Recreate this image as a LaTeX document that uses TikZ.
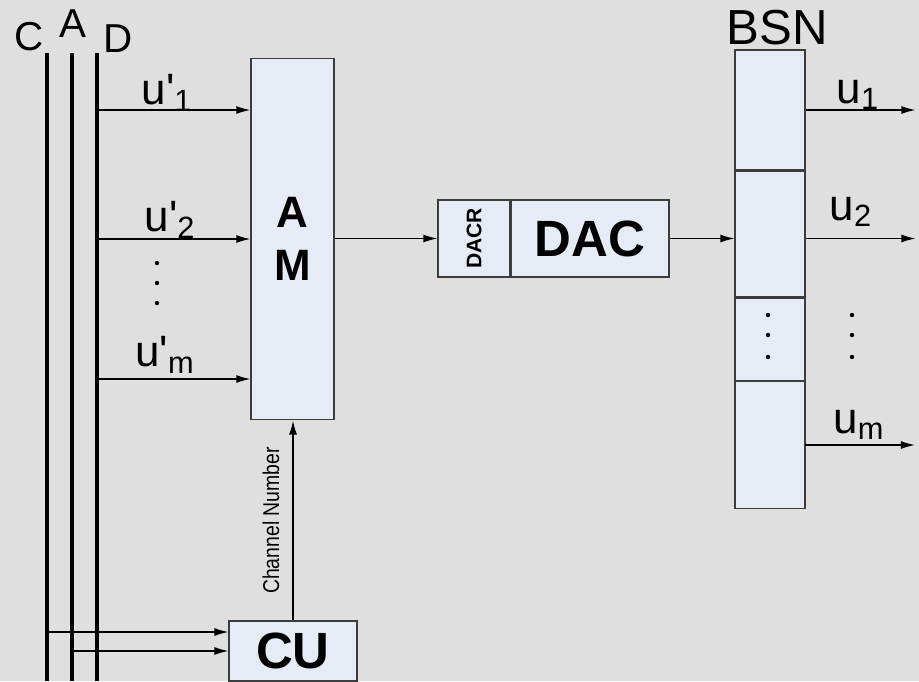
\documentclass[tikz,border=0pt]{standalone}
\usepackage{fontspec}
\setmainfont{Liberation Sans}
\usetikzlibrary{arrows.meta,positioning}
\definecolor{bggray}{HTML}{DFDFDF}
\definecolor{boxfill}{HTML}{E6ECF6}
\definecolor{boxline}{HTML}{3C3C3C}

\begin{document}
\begin{tikzpicture}[x=0.02cm,y=0.02cm,
  blk/.style={draw=boxline,fill=boxfill,line width=0.6pt,inner sep=0pt},
  sig/.style={line width=0.8pt,-{Latex[length=8pt,width=4.5pt]}},
  bus/.style={line width=2.2pt},
  ulbl/.style={font=\fontsize{25}{28}\selectfont}]
  \fill[bggray] (0,0) rectangle (919,681);
  \useasboundingbox (0,0) rectangle (919,681);
  % C, A, D lines
  \foreach \x/\lx/\ly/\n in {47/29/644/C,72/73/657/A,97/118/642/D} {
    \draw[bus] (\x,628) -- (\x,0);
    \node[font=\fontsize{23}{25}\selectfont] (bus\n) at (\lx,\ly) {\n};
  }
  % blocks
  \node[blk,minimum width=1.66cm,minimum height=7.24cm,align=center,
        font=\fontsize{25}{30}\selectfont\bfseries] (am) at (292.5,442) {A\\M};
  \node[blk,minimum width=1.44cm,minimum height=1.54cm,
        font=\fontsize{12}{14}\selectfont\bfseries] (dacr) at (474,442.5) {\rotatebox{90}{DACR}};
  \node[blk,minimum width=3.16cm,minimum height=1.54cm,right=0pt of dacr,
        font=\fontsize{29}{32}\selectfont\bfseries] (dac) {DAC};
  \node[blk,minimum width=1.4cm,minimum height=2.4cm] (bsn1) at (770,571) {};
  \node[blk,minimum width=1.4cm,minimum height=2.52cm,below=0pt of bsn1] (bsn2) {};
  \node[blk,minimum width=1.4cm,minimum height=1.64cm,below=0pt of bsn2] (bsn3) {};
  \node[blk,minimum width=1.4cm,minimum height=2.54cm,below=0pt of bsn3] (bsn4) {};
  \node[font=\fontsize{28}{30}\selectfont] (bsn) at (777,653) {BSN};
  \node[blk,minimum width=2.56cm,minimum height=1.2cm,
        font=\fontsize{29}{32}\selectfont\bfseries] (cu) at (293,30) {CU};

  % inputs to AM
  \foreach \y/\i in {571/1,442/2,302/m} {
    \coordinate (d\i) at (97,\y);
    \draw[sig] (d\i) -- (d\i -| am.west);
  }
  \node[ulbl] (in1) at (167,588) {u\textquotesingle\textsubscript{1}};
  \node[ulbl] (in2) at (170,461) {u\textquotesingle\textsubscript{2}};
  \node[ulbl] (inm) at (165,326) {u\textquotesingle\textsubscript{m}};
  \foreach \y in {418,398,378} \fill (157,\y) circle (2.2);

  % AM -> DAC -> BSN
  \draw[sig] (am.east |- dacr.west) -- (dacr.west);
  \draw[sig] (dac.east) -- (dac.east -| bsn2.west);

  % outputs
  \draw[sig] (bsn1.east) -- ++(110,0);
  \draw[sig] (dac.east -| bsn2.east) -- ++(110,0);
  \coordinate (om) at (805,236);
  \draw[sig] (om) -- ++(110,0);
  \node[ulbl] (out1) at (858,586) {u\textsubscript{1}};
  \node[ulbl] (out2) at (851,469) {u\textsubscript{2}};
  \node[ulbl] (outm) at (859,256) {u\textsubscript{m}};
  \foreach \y in {366,346,324} {
    \fill (768,\y) circle (2.2);
    \fill (852,\y) circle (2.2);
  }

  % control unit
  \coordinate (c0) at (47,49);
  \coordinate (a0) at (72,30);
  \draw[sig] (c0) -- (c0 -| cu.west);
  \draw[sig] (a0) -- (a0 -| cu.west);
  \draw[sig] (cu.north) -- (cu.north |- am.south)
    node[midway,sloped,above=4pt,font=\fontsize{13}{15}\selectfont] {\scalebox{0.85}[1]{Channel Number}};
\end{tikzpicture}
\end{document}
